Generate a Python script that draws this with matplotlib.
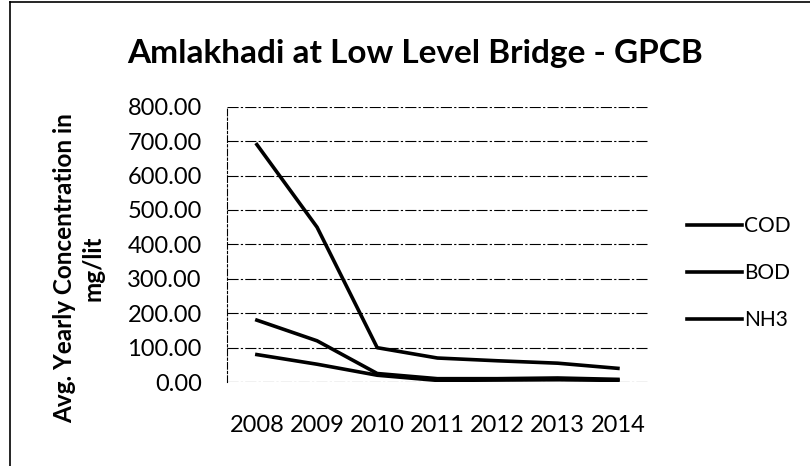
import matplotlib
matplotlib.use("Agg")
import matplotlib.pyplot as plt
from matplotlib.lines import Line2D

years = ["2008", "2009", "2010", "2011", "2012", "2013", "2014"]
cod = [690, 450, 100, 70, 62, 55, 40]
bod = [180, 120, 25, 10, 10, 12, 8]
nh3 = [80, 52, 20, 5, 6, 7, 5]

plt.rcParams['font.family'] = ['Lato', 'DejaVu Sans']

fig = plt.figure(figsize=(8.1, 4.66), dpi=100)
ax = fig.add_axes([0.280, 0.180, 0.520, 0.591])

x = range(len(years))
ax.plot(x, cod, color='black', lw=2.6, label='COD')
ax.plot(x, bod, color='black', lw=2.6, label='BOD')
ax.plot(x, nh3, color='black', lw=2.6, label='NH3')

ax.set_xlim(-0.5, len(years) - 0.5)
ax.set_ylim(0, 800)
ax.set_yticks(range(0, 801, 100))
ax.set_yticklabels(['%.2f' % v for v in range(0, 801, 100)], fontsize=17)
ax.set_xticks(list(x))
ax.set_xticklabels(years, fontsize=17)
ax.tick_params(axis='y', length=0, pad=18)
ax.tick_params(axis='x', length=0, pad=24)

ax.yaxis.grid(True, color='black', lw=0.8, linestyle=(0, (10, 2, 2, 2)))
ax.set_axisbelow(True)
for s in ['top', 'right', 'bottom']:
    ax.spines[s].set_visible(False)
ax.spines['left'].set_color('black')
ax.spines['left'].set_linewidth(0.8)
ax.spines['left'].set_linestyle((0, (6, 2, 2, 2)))

fig.text(0.0975, 0.425, 'Avg. Yearly Concentration in\nmg/lit', fontsize=17.5,
         fontweight='bold', rotation=90, ha='center', va='center',
         multialignment='center', linespacing=1.3)

fig.text(0.512, 0.865, 'Amlakhadi at Low Level Bridge - GPCB',
         fontsize=24, fontweight='bold', ha='center', va='baseline')

ax.legend(loc='center left', bbox_to_anchor=(1.093, 0.395), frameon=False,
          fontsize=15, handlelength=2.65, handletextpad=0.1,
          labelspacing=1.3, borderpad=0, borderaxespad=0)

# outer chart border (left and top visible in the scan)
fig.add_artist(Line2D([0.012, 0.012], [0.0, 0.995], color='black', lw=1.2))
fig.add_artist(Line2D([0.012, 1.0], [0.995, 0.995], color='black', lw=1.2))

fig.savefig('out.png', dpi=100)
